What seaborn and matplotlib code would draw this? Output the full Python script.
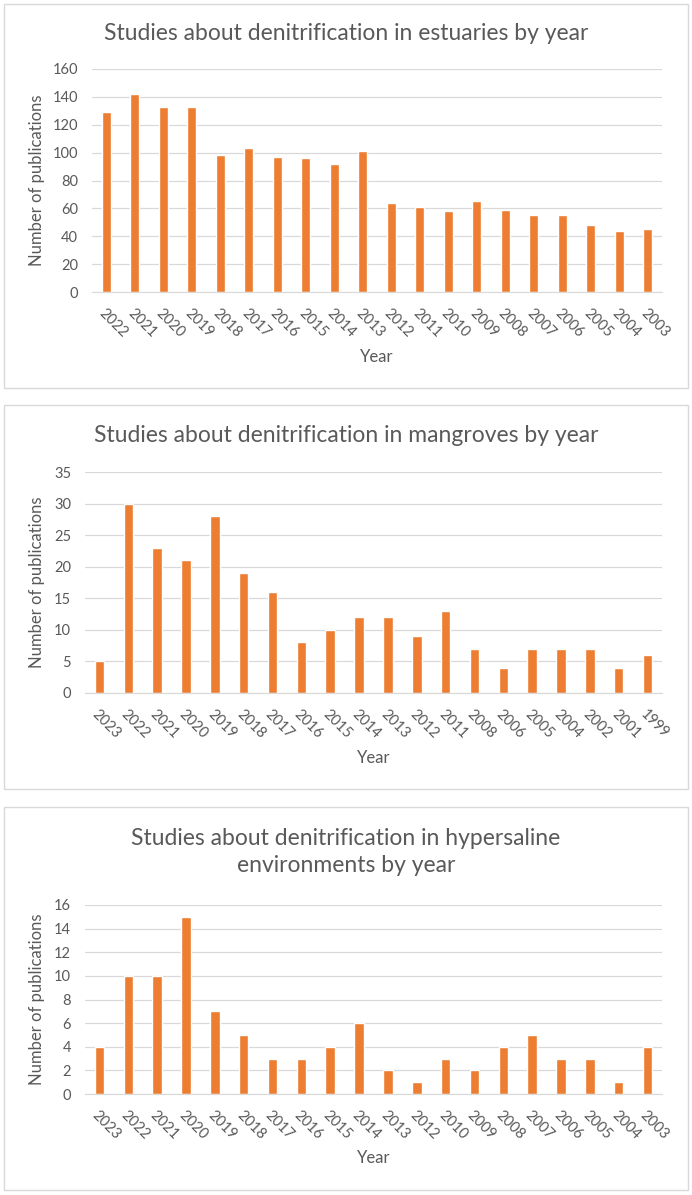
import matplotlib
matplotlib.use("Agg")
import matplotlib.pyplot as plt
import seaborn as sns
import pandas as pd
from matplotlib.patches import Rectangle

# --- Datos ---
est_years = ["2022", "2021", "2020", "2019", "2018", "2017", "2016", "2015", "2014", "2013",
             "2012", "2011", "2010", "2009", "2008", "2007", "2006", "2005", "2004", "2003"]
est_counts = [129, 142, 133, 133, 98, 103, 97, 96, 92, 101, 64, 61, 58, 65, 59, 55, 55, 48, 44, 45]

man_years = ["2023", "2022", "2021", "2020", "2019", "2018", "2017", "2016", "2015", "2014",
             "2013", "2012", "2011", "2008", "2006", "2005", "2004", "2002", "2001", "1999"]
man_counts = [5, 30, 23, 21, 28, 19, 16, 8, 10, 12, 12, 9, 13, 7, 4, 7, 7, 7, 4, 6]

hyp_years = ["2023", "2022", "2021", "2020", "2019", "2018", "2017", "2016", "2015", "2014",
             "2013", "2012", "2010", "2009", "2008", "2007", "2006", "2005", "2004", "2003"]
hyp_counts = [4, 10, 10, 15, 7, 5, 3, 3, 4, 6, 2, 1, 3, 2, 4, 5, 3, 3, 1, 4]

sns.set_style("white")
plt.rcParams["font.family"] = ["Lato", "DejaVu Sans"]

W, H = 692, 1195
fig = plt.figure(figsize=(W / 100, H / 100), dpi=100)
gris = "#595959"
naranja = "#ED7D31"

paneles = [
    # (años, valores, título, ymax, paso, caja, ejes, y_titulo, y_label_year)
    (est_years, est_counts, "Studies about denitrification in estuaries by year",
     160, 20, (4, 4, 688, 388), (92, 69, 662, 292), 33, 357),
    (man_years, man_counts, "Studies about denitrification in mangroves by year",
     35, 5, (4, 405, 688, 789), (85, 472, 662, 693), 435, 758),
    (hyp_years, hyp_counts, "Studies about denitrification in hypersaline\nenvironments by year",
     16, 2, (4, 807, 688, 1190), (85, 905, 662, 1094), 852, 1158),
]

for years, counts, titulo, ymax, paso, caja, ejes, yt, yy in paneles:
    x0, y0, x1, y1 = caja
    fig.patches.append(Rectangle((x0 / W, 1 - y1 / H), (x1 - x0) / W, (y1 - y0) / H,
                                 transform=fig.transFigure, fill=False,
                                 edgecolor="#D9D9D9", linewidth=1))
    l, t, r, b = ejes
    ax = fig.add_axes([l / W, 1 - b / H, (r - l) / W, (b - t) / H])
    df = pd.DataFrame({"year": years, "n": counts})
    sns.barplot(data=df, x="year", y="n", order=years, color=naranja,
                saturation=1, width=0.33, ax=ax)
    ax.set_ylim(0, ymax)
    ax.set_xlim(-0.5, len(years) - 0.5)
    ax.set_yticks(range(0, ymax + 1, paso))
    ax.yaxis.grid(True, color="#D9D9D9", linewidth=0.9)
    ax.set_axisbelow(True)
    for s in ["top", "right", "left"]:
        ax.spines[s].set_visible(False)
    ax.spines["bottom"].set_color("#D9D9D9")
    ax.tick_params(axis="both", length=0, colors=gris, labelsize=10.5)
    ax.tick_params(axis="y", pad=10)
    ax.tick_params(axis="x", pad=10)
    for lab in ax.get_xticklabels():
        lab.set_rotation(-45)
        lab.set_ha("left")
        lab.set_va("top")
        lab.set_rotation_mode("anchor")
    ax.set_xlabel("")
    ax.set_ylabel("")
    fig.text(37 / W, 1 - (t + b) / 2 / H, "Number of publications", rotation=90,
             ha="center", va="center", color=gris, fontsize=12)
    fig.text((l + r) / 2 / W, 1 - yy / H, "Year", ha="center", va="center",
             color=gris, fontsize=12)
    fig.text((x0 + x1) / 2 / W, 1 - yt / H, titulo, ha="center", va="center",
             color=gris, fontsize=16.5, linespacing=1.3)

fig.savefig("out.png", dpi=100, facecolor="white")
